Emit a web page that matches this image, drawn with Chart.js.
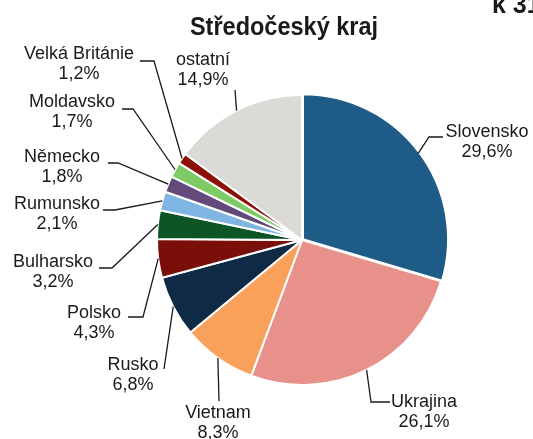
<!DOCTYPE html>
<html>
<head>
<meta charset="utf-8">
<script src="https://cdn.jsdelivr.net/npm/chart.js@4/dist/chart.umd.min.js"></script>
<style>
html,body{margin:0;padding:0;background:#fff;}
#wrap{width:533px;height:439px;position:relative;}
</style>
</head>
<body>
<div id="wrap"><canvas id="c" width="533" height="439"></canvas></div>
<script>
// ---- data ----
const title = "Středočeský kraj";
const cornerText = "k 31. 12.";
const categories = ["Slovensko","Ukrajina","Vietnam","Rusko","Polsko","Bulharsko","Rumunsko","Německo","Moldavsko","Velká Británie","ostatní"];
const shares = [29.6,26.1,8.3,6.8,4.3,3.2,2.1,1.8,1.7,1.2,14.9];
const colors = ["#1F5B87","#E8908A","#F9A05A","#0E2A45","#7A0E08","#0B5624","#7FB5E2","#624B7B","#7ECA64","#8C1008","#DCDAD6"];
const offsets = [5,0,0,0,0,0,0,0,0,0,0];

// ---- label layout (text centre x, first baseline y, leader path points after the slice point) ----
const labelLayout = [
  {x:487, y:137, path:[[429,137],[443,137]]},
  {x:424, y:407, path:[[371,402],[390,402]]},
  {x:218, y:418, path:[[219,401]]},
  {x:133, y:370, path:[[164,369]]},
  {x:94,  y:318, path:[[143,317],[128,317]]},
  {x:53,  y:267, path:[[112,268],[99,268]]},
  {x:57,  y:209, path:[[115,210],[103,210]]},
  {x:62,  y:162, path:[[118,163],[108,163]]},
  {x:72,  y:107, path:[[133,109],[122,109]]},
  {x:79,  y:59,  path:[[154,61],[140,61]]},
  {x:203, y:65,  path:[[235,90]]}
];

function fmt(v){ return v.toFixed(1).replace('.', ',') + '%'; }

const labelPlugin = {
  id: 'labels',
  afterDatasetsDraw(chart){
    const ctx = chart.ctx;
    const arcs = chart.getDatasetMeta(0).data;
    ctx.save();
    // leader lines
    ctx.strokeStyle = '#1a1a1a';
    ctx.lineWidth = 1.3;
    arcs.forEach((arc, i) => {
      const p = arc.getProps(['x','y','startAngle','endAngle','outerRadius'], true);
      const mid = (p.startAngle + p.endAngle) / 2;
      const sx = p.x + Math.cos(mid) * p.outerRadius;
      const sy = p.y + Math.sin(mid) * p.outerRadius;
      ctx.beginPath();
      ctx.moveTo(sx, sy);
      labelLayout[i].path.forEach(pt => ctx.lineTo(pt[0], pt[1]));
      ctx.stroke();
    });
    // label texts
    ctx.fillStyle = '#1a1a1a';
    ctx.font = '18px "Liberation Sans", Arial, sans-serif';
    ctx.textAlign = 'center';
    ctx.textBaseline = 'alphabetic';
    categories.forEach((name, i) => {
      const L = labelLayout[i];
      ctx.fillText(name, L.x, L.y);
      ctx.fillText(fmt(shares[i]), L.x, L.y + 19.5);
    });
    // title
    ctx.font = 'bold 25px "Liberation Sans", Arial, sans-serif';
    ctx.save();
    ctx.translate(284, 35);
    ctx.scale(0.94, 1.05);
    ctx.fillText(title, 0, 0);
    ctx.restore();
    ctx.textAlign = 'left';
    ctx.fillText(cornerText, 492, 13);
    ctx.restore();
  }
};

new Chart(document.getElementById('c'), {
  type: 'pie',
  data: {
    labels: categories,
    datasets: [{
      data: shares,
      backgroundColor: colors,
      borderColor: '#ffffff',
      borderWidth: 2,
      offset: offsets,
      radius: 145
    }]
  },
  options: {
    responsive: false,
    animation: false,
    devicePixelRatio: 1,
    layout: { padding: { left: 80, right: 9, top: 50, bottom: 9 } },
    plugins: { legend: { display: false }, tooltip: { enabled: false }, title: { display: false } }
  },
  plugins: [labelPlugin]
});
</script>
</body>
</html>
